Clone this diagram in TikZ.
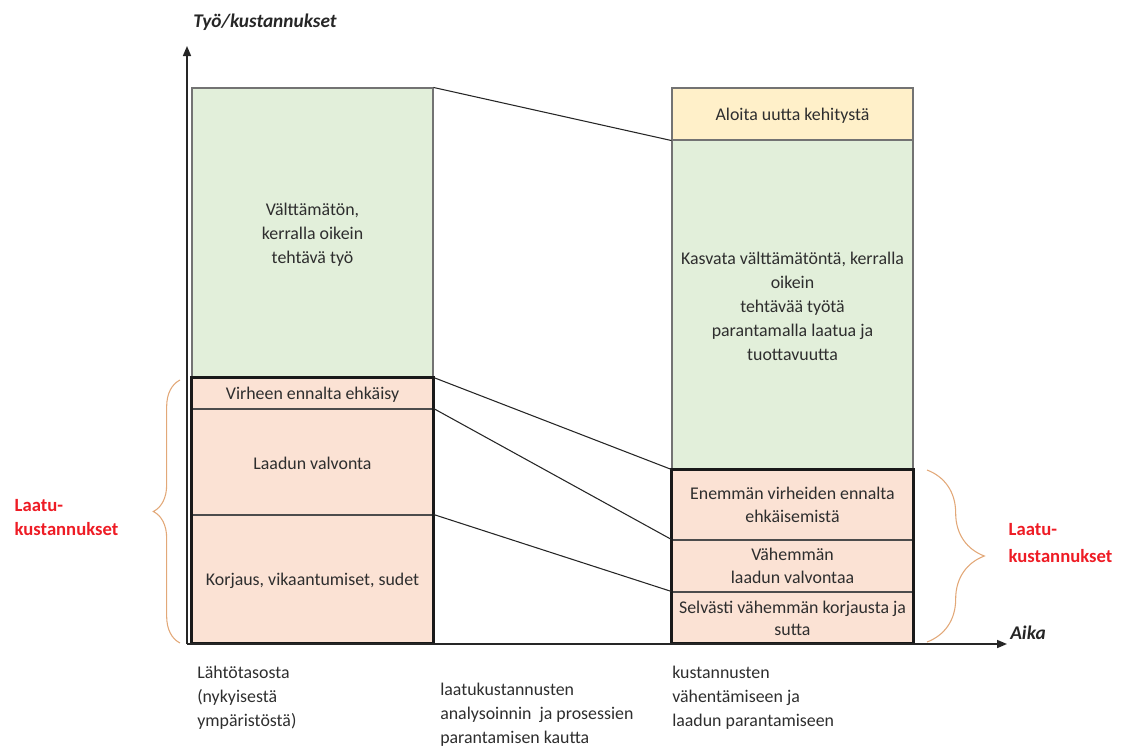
\documentclass[tikz,border=0pt]{standalone}
\usepackage{fontspec}
\setmainfont{Carlito}
\usetikzlibrary{fit,arrows.meta,decorations.pathreplacing}
\definecolor{gfill}{HTML}{E2EFDA}
\definecolor{pfill}{HTML}{FBE2D4}
\definecolor{yfill}{HTML}{FFF0C9}
\definecolor{txt}{HTML}{2E2E2E}
\definecolor{brc}{HTML}{E2A878}
\definecolor{lab}{HTML}{EE1C25}
\begin{document}
\begin{tikzpicture}[x=0.75pt,y=-0.75pt,
  basefont/.style={font=\fontsize{13.4}{18}\selectfont},
  cell/.style={inner sep=0pt, draw=black!70, line width=0.8pt},
  green/.style={cell, fill=gfill, draw=black!55},
  pink/.style={cell, fill=pfill},
  yellow/.style={cell, fill=yfill, draw=black!55},
  celltext/.style={basefont, inner sep=0pt, align=center, text=txt, yshift=-1pt},
  tighttext/.style={celltext, font=\fontsize{13.4}{16.8}\selectfont, yshift=1.2pt},
  frame/.style={draw=black!90, line width=1.6pt},
  link/.style={draw=black!85, line width=0.8pt},
  axis/.style={draw=black!85, line width=1.2pt, -{Triangle[length=7.5pt,width=6pt]}},
  brc/.style={draw=brc, line width=0.8pt, decorate,
    decoration={brace, amplitude=#1}},
  red/.style={font=\fontsize{14}{18}\selectfont\bfseries, text=lab, align=left},
  note/.style={basefont, text=txt, align=left, inner sep=0pt, anchor=north west},
  axlabel/.style={font=\fontsize{14.5}{16}\selectfont\bfseries\itshape, text=black!85, inner sep=0pt}]
\useasboundingbox (0,0) rectangle (1128,754);

% left column: present state
\node[green,  fit={(192,88)(433,378)}]  (lg)  {};
\node[pink,   fit={(192,378)(433,409)}] (lv1) {};
\node[pink,   fit={(192,409)(433,515)}] (lv2) {};
\node[pink,   fit={(192,515)(433,643)}] (lv3) {};
\draw[frame] (lv1.north west) rectangle (lv3.south east);
\node[celltext] (lgt)  at (lg.center)  {Välttämätön,\\kerralla oikein\\tehtävä työ};
\node[celltext] (lv1t) at (lv1.center) {Virheen ennalta ehkäisy};
\node[celltext] (lv2t) at (lv2.center) {Laadun valvonta};
\node[celltext] (lv3t) at (lv3.center) {Korjaus, vikaantumiset, sudet};

% right column: improved state
\node[yellow, fit={(672,88)(913,140)}]  (ry)  {};
\node[green,  fit={(672,140)(913,470)}] (rg)  {};
\node[pink,   fit={(672,470)(913,540)}] (r1)  {};
\node[pink,   fit={(672,540)(913,592)}] (r2)  {};
\node[pink,   fit={(672,592)(913,643)}] (r3)  {};
\draw[frame] (r1.north west) rectangle (r3.south east);
\node[celltext]  (ryt) at (ry.center) {Aloita uutta kehitystä};
\node[celltext]  (rgt) at (rg.center) {Kasvata välttämätöntä, kerralla\\oikein\\tehtävää työtä\\parantamalla laatua ja\\tuottavuutta};
\node[tighttext] (r1t) at (r1.center) {Enemmän virheiden ennalta\\ehkäisemistä};
\node[tighttext] (r2t) at (r2.center) {Vähemmän\\laadun valvontaa};
\node[tighttext, yshift=-1pt] (r3t) at (r3.center) {Selvästi vähemmän korjausta ja\\sutta};

% connectors between the columns
\draw[link] (lg.north east)  -- (ry.south west);
\draw[link] (lv1.north east) -- (r1.north west);
\draw[link] (lv2.north east) -- (r2.north west);
\draw[link] (lv3.north east) -- (r3.north west);

% axes
\coordinate (O) at (187,644);
\coordinate (ytip) at (187,46);
\coordinate (xtip) at (1007,644);
\draw[axis] (O) -- (ytip);
\draw[axis] (O) -- (xtip);
\node[axlabel, anchor=west] (ttl) at (193,22) {Työ/kustannukset};
\node[axlabel, anchor=west] (aika) at (1010,633) {Aika};

% quality-cost braces
\coordinate (lb1) at (180,643);
\coordinate (lb2) at (180,380);
\coordinate (rb1) at (927,470);
\coordinate (rb2) at (927,642);
\draw[brc=20pt] (lb1) -- (lb2);
\draw[brc=43pt] (rb1) -- (rb2);
\node[red, anchor=west] (lq) at (10,518) {Laatu-\\kustannukset};
\node[red, anchor=west, font=\fontsize{14}{20}\selectfont\bfseries] (rq) at (1004,543) {Laatu-\\kustannukset};

% captions under the time axis
\node[note] (c1) at (197,666) {Lähtötasosta\\(nykyisestä\\ympäristöstä)};
\node[note] (c2) at (440,683) {laatukustannusten\\analysoinnin\ \ ja prosessien\\parantamisen kautta};
\node[note] (c3) at (672,666) {kustannusten\\vähentämiseen ja\\laadun parantamiseen};
\end{tikzpicture}
\end{document}
